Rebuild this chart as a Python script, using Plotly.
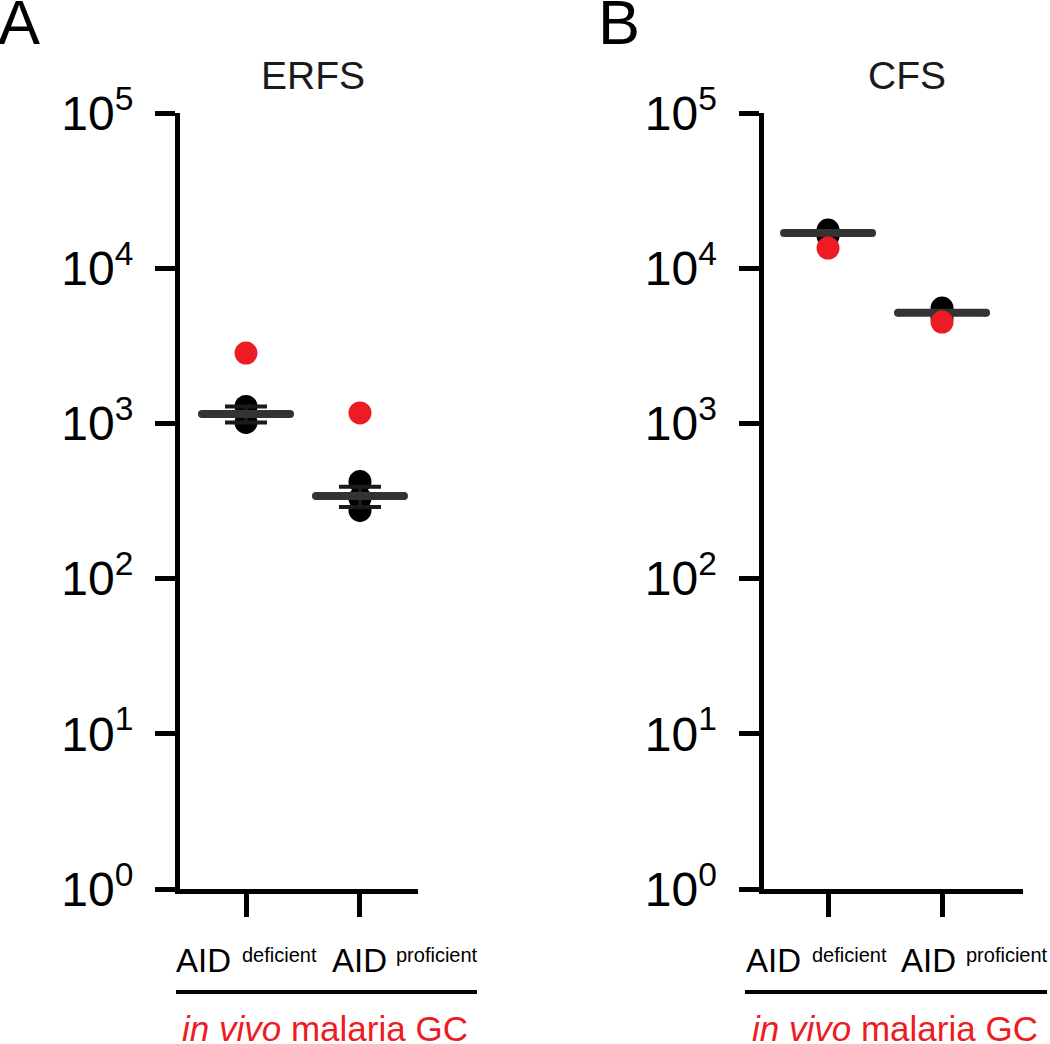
import plotly.graph_objects as go

# ---------------- data ----------------
categories = ["AID deficient", "AID proficient"]
cat_main = ["AID", "AID"]
cat_super = ["deficient", "proficient"]
cat_pos = [0, 1]

# Panel A: ERFS
erfs_black = [[1285, 1014], [422, 330, 275]]
erfs_red = [2840, 1167]
erfs_mean = [1150, 340]
erfs_err = [135, 51]

# Panel B: CFS
cfs_black = [[17600, 16100], [5540, 4770]]
cfs_red = [13490, 4500]
cfs_mean = [16850, 5155]
cfs_err = [0, 0]

ytick_vals = [1, 10, 100, 1000, 10000, 100000]
ytick_text = ["10<sup>0</sup>", "10<sup>1</sup>", "10<sup>2</sup>",
              "10<sup>3</sup>", "10<sup>4</sup>", "10<sup>5</sup>"]

panel_titles = ["ERFS", "CFS"]
panel_letters = ["A", "B"]
group_label = "<i>in vivo</i> malaria GC"

# ---------------- styling ----------------
W, H = 1050, 1044
FONT = "Liberation Sans, Arial, Helvetica, sans-serif"
RED = "#ED1C24"
GRAY = "#333333"
MEAN_HALF = 0.386

def px_x(p):
    return p / W

def px_y(p):
    return 1 - p / H

fig = go.Figure()

panels = [
    dict(black=erfs_black, red=erfs_red, mean=erfs_mean, err=erfs_err, xa="x", ya="y"),
    dict(black=cfs_black, red=cfs_red, mean=cfs_mean, err=cfs_err, xa="x2", ya="y2"),
]

for p in panels:
    bx, by = [], []
    for i, vals in enumerate(p["black"]):
        for v in vals:
            bx.append(cat_pos[i])
            by.append(v)
    fig.add_trace(go.Scatter(x=bx, y=by, mode="markers",
                             marker=dict(size=23, color="black"),
                             xaxis=p["xa"], yaxis=p["ya"], showlegend=False, hoverinfo="skip"))
    fig.add_trace(go.Scatter(x=cat_pos, y=p["mean"], mode="markers",
                             marker=dict(size=1, color="rgba(0,0,0,0)"),
                             error_y=dict(type="data", array=p["err"], visible=True,
                                          color="#1a1a1a", thickness=4, width=21),
                             xaxis=p["xa"], yaxis=p["ya"], showlegend=False, hoverinfo="skip"))
    for i, m in enumerate(p["mean"]):
        fig.add_trace(go.Scatter(x=[cat_pos[i] - MEAN_HALF, cat_pos[i] + MEAN_HALF], y=[m, m],
                                 mode="lines+markers", line=dict(color=GRAY, width=8),
                                 marker=dict(size=8, color=GRAY),
                                 xaxis=p["xa"], yaxis=p["ya"], showlegend=False, hoverinfo="skip"))
    fig.add_trace(go.Scatter(x=cat_pos, y=p["red"], mode="markers",
                             marker=dict(size=23, color=RED),
                             xaxis=p["xa"], yaxis=p["ya"], showlegend=False, hoverinfo="skip"))

yaxis_common = dict(type="log", range=[0, 5], domain=[px_y(889), px_y(113)],
                    tickmode="array", tickvals=ytick_vals, ticktext=ytick_text,
                    showline=True, linecolor="black", linewidth=5,
                    ticks="outside", ticklen=20, tickwidth=5, tickcolor="black",
                    showgrid=False, zeroline=False, automargin=False,
                    tickfont=dict(family=FONT, size=48, color="black"),
                    ticklabelstandoff=12)
xaxis_common = dict(tickmode="array", tickvals=cat_pos, showticklabels=False,
                    showline=True, linecolor="black", linewidth=5,
                    ticks="outside", ticklen=23, tickwidth=5, tickcolor="black",
                    showgrid=False, zeroline=False, automargin=False)

fig.update_layout(
    width=W, height=H,
    margin=dict(l=0, r=0, t=0, b=0, pad=0, autoexpand=False),
    paper_bgcolor="white", plot_bgcolor="white",
    xaxis=dict(xaxis_common, domain=[px_x(180), px_x(418)], range=[-0.579, 1.509], anchor="y"),
    yaxis=dict(yaxis_common, anchor="x"),
    xaxis2=dict(xaxis_common, domain=[px_x(763.5), px_x(1023)], range=[-0.566, 1.71], anchor="y2"),
    yaxis2=dict(yaxis_common, anchor="x2"),
    showlegend=False,
)

annotations = []
shapes = []
for letter, xl in zip(panel_letters, [-4, 596]):
    annotations.append(dict(text=letter, x=px_x(xl), y=px_y(-15), xref="paper", yref="paper",
                            xanchor="left", yanchor="top", showarrow=False,
                            font=dict(family=FONT, size=63, color="black")))
for t, xc in zip(panel_titles, [313, 907]):
    annotations.append(dict(text=t, x=px_x(xc), y=px_y(76), xref="paper", yref="paper",
                            xanchor="center", yanchor="middle", showarrow=False,
                            font=dict(family=FONT, size=39, color="#1a1a1a")))
# category labels: "AID" plus smaller raised word
main_lefts = [[174, 330], [744, 899]]
super_lefts = [[240, 394], [810, 964]]
for mls, sls in zip(main_lefts, super_lefts):
    for j in range(len(cat_pos)):
        annotations.append(dict(text=cat_main[j], x=px_x(mls[j]), y=px_y(960), xref="paper",
                                yref="paper", xanchor="left", yanchor="middle", showarrow=False,
                                font=dict(family=FONT, size=33, color="black")))
        annotations.append(dict(text=cat_super[j], x=px_x(sls[j]), y=px_y(955), xref="paper",
                                yref="paper", xanchor="left", yanchor="middle", showarrow=False,
                                font=dict(family=FONT, size=20, color="black")))
for (x0, x1), xc in zip([(176, 477), (745, 1047)], [325, 895]):
    shapes.append(dict(type="line", xref="paper", yref="paper",
                       x0=px_x(x0), x1=px_x(x1), y0=px_y(992), y1=px_y(992),
                       line=dict(color="black", width=4)))
    annotations.append(dict(text=group_label, x=px_x(xc), y=px_y(1028),
                            xref="paper", yref="paper", xanchor="center", yanchor="middle",
                            showarrow=False, font=dict(family=FONT, size=35, color=RED)))

fig.update_layout(annotations=annotations, shapes=shapes)
fig.write_html("out.html", config={"displayModeBar": False},
               post_script="document.body.style.margin='0';document.body.style.overflow='hidden';")
